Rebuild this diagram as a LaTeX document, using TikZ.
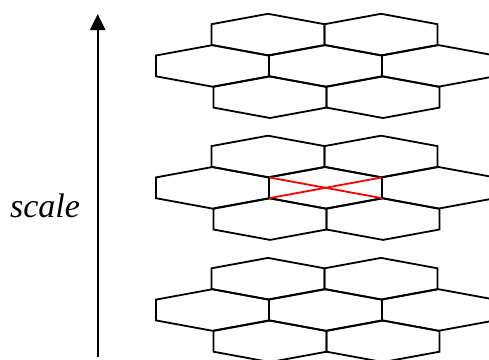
\documentclass[tikz,border=0pt]{standalone}
\usepackage{fontspec}
\setmainfont{Liberation Serif}
\usetikzlibrary{arrows.meta}
\begin{document}
\begin{tikzpicture}[x=1pt,y=-1pt,
  hexline/.style={line width=1.8pt, line join=miter},
  redx/.style={line width=1.8pt, red},
  scalearrow/.style={line width=2.3pt, -{Triangle[length=16pt,width=15pt]}}]
\useasboundingbox (0,0) rectangle (489,359);
\def\hw{56.5}\def\hh{10.4}\def\hr{10.4}
\newcommand{\hexat}[2]{%
  \draw[hexline] (#1-\hw,#2-\hh) -- (#1,#2-\hh-\hr) -- (#1+\hw,#2-\hh) -- (#1+\hw,#2+\hh) -- (#1,#2+\hh+\hr) -- (#1-\hw,#2+\hh) -- cycle;}
\newcommand{\hexgrid}[1]{%
  \hexat{268}{#1}\hexat{381}{#1}%
  \hexat{212.5}{#1+31.3}\hexat{325.5}{#1+31.3}\hexat{438.5}{#1+31.3}%
  \hexat{270}{#1+62.6}\hexat{383}{#1+62.6}}
\begin{scope}
\clip (0,0) rectangle (489,359);
\hexgrid{34.6}
\hexgrid{156.5}
\hexgrid{278.7}
\end{scope}
% red cross in the centre cell of the middle grid
\coordinate (ul) at (269,177.4);
\coordinate (ur) at (382,177.4);
\coordinate (ll) at (269,198.2);
\coordinate (lr) at (382,198.2);
\draw[redx] (ul) -- (lr);
\draw[redx] (ll) -- (ur);
% scale arrow
\coordinate (abot) at (97.7,356.7);
\coordinate (atop) at (97.7,14);
\draw[scalearrow] (abot) -- (atop);
\node[anchor=base, inner sep=0pt, font=\fontsize{34}{40}\selectfont\itshape] (lbl) at (45,217) {scale};
\end{tikzpicture}
\end{document}
